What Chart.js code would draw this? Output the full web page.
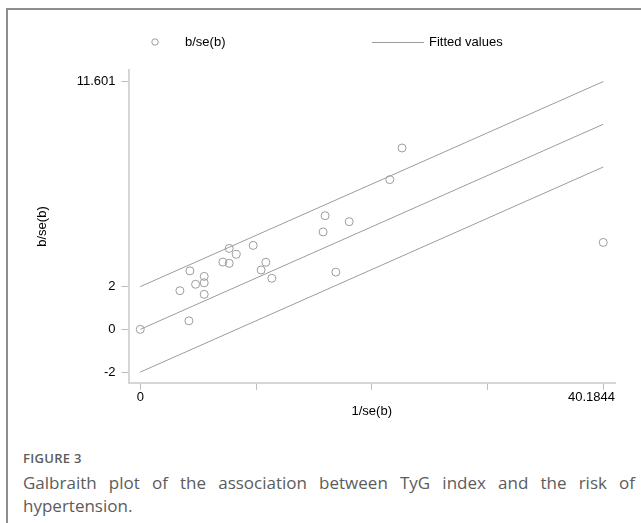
<!DOCTYPE html>
<html>
<head>
<meta charset="utf-8">
<title>Galbraith plot</title>
<script src="https://cdn.jsdelivr.net/npm/chart.js@4.4.1/dist/chart.umd.min.js"></script>
<style>
  html, body { margin: 0; padding: 0; background: #fff; }
  body { width: 641px; height: 523px; position: relative; overflow: hidden; }
  .frame {
    position: absolute; left: 6px; top: 8px; width: 700px; height: 600px;
    border-top: 2px solid #8e8e8e; border-left: 2px solid #8e8e8e;
  }
  #wrap { position: absolute; left: 0; top: 0; width: 641px; height: 440px; }
  .fig-label {
    position: absolute; left: 23px; top: 449px;
    font-family: "Open Sans", sans-serif; font-weight: 600; font-size: 13px;
    color: #5c5c5c; letter-spacing: 0.3px;
  }
  .fig-caption {
    position: absolute; left: 23px; top: 471px; width: 612px;
    font-family: "Open Sans", sans-serif; font-size: 17px; line-height: 23px;
    color: #5c5c5c; text-align: justify;
  }
</style>
</head>
<body>
<div class="frame"></div>
<div id="wrap"><canvas id="galbraith" width="641" height="440"></canvas></div>
<div class="fig-label">FIGURE 3</div>
<div class="fig-caption">Galbraith plot of the association between TyG index and the risk of hypertension.</div>

<script>
// значения
const studyX = [0, 3.44, 4.22, 4.31, 4.80, 5.55, 5.55, 5.55, 7.17, 7.72, 7.72, 8.33,
  9.80, 10.49, 10.90, 11.42, 15.87, 16.04, 16.97, 18.13, 21.66, 22.72, 40.18];
const studyY = [0, 1.81, 0.40, 2.74, 2.11, 2.48, 2.18, 1.64, 3.15, 3.79, 3.09, 3.51,
  3.93, 2.78, 3.14, 2.39, 4.56, 5.32, 2.68, 5.04, 7.01, 8.49, 4.07];

const fitX = [0, 40.1844];
const fitMid = [0, 9.601];
const fitUpper = [2, 11.601];
const fitLower = [-2, 7.601];

const xTicks = [0, 10.0461, 20.0922, 30.1383, 40.1844];
const xTickLabels = ["0", "", "", "", "40.1844"];
const yTicks = [-2, 0, 2, 11.601];
const yTickLabels = ["-2", "0", "2", "11.601"];

const legendLabels = ["b/se(b)", "Fitted values"];

const markColor = "#9c9c9c";
const axisFont = { family: "'Liberation Sans', Arial, sans-serif", size: 13 };

const toPoints = (xs, ys) => xs.map((x, i) => ({ x: x, y: ys[i] }));

const fitLine = (ys) => ({
  type: "line",
  data: toPoints(fitX, ys),
  borderColor: markColor,
  borderWidth: 1,
  pointRadius: 0,
  fill: false
});

// легенда в одну строку, как в Stata
const legendRow = {
  id: "legendRow",
  afterDraw(chart) {
    const ctx = chart.ctx;
    ctx.save();
    ctx.strokeStyle = markColor;
    ctx.lineWidth = 1;
    ctx.beginPath();
    ctx.arc(155, 42, 3.2, 0, Math.PI * 2);
    ctx.stroke();
    ctx.beginPath();
    ctx.moveTo(372, 42.5);
    ctx.lineTo(424, 42.5);
    ctx.stroke();
    ctx.fillStyle = "#000";
    ctx.font = "13px 'Liberation Sans', Arial, sans-serif";
    ctx.textBaseline = "middle";
    ctx.fillText(legendLabels[0], 185, 42);
    ctx.fillText(legendLabels[1], 429, 42);
    ctx.restore();
  }
};

// последняя подпись оси X прижата к концу оси
const lastXLabel = {
  id: "lastXLabel",
  beforeDraw(chart) {
    const scale = chart.scales.x;
    const items = scale.getLabelItems();
    const last = items[items.length - 1];
    if (last) {
      last.options.textAlign = "right";
      last.options.translation[0] = scale.right;
    }
  }
};

new Chart(document.getElementById("galbraith"), {
  type: "scatter",
  data: {
    datasets: [
      {
        label: legendLabels[0],
        data: toPoints(studyX, studyY),
        pointStyle: "circle",
        pointRadius: 4,
        borderColor: markColor,
        backgroundColor: "rgba(0,0,0,0)",
        borderWidth: 1
      },
      fitLine(fitUpper),
      fitLine(fitMid),
      fitLine(fitLower)
    ]
  },
  options: {
    responsive: false,
    animation: false,
    layout: { padding: { left: 30, top: 70, right: 26, bottom: 17 } },
    plugins: {
      legend: { display: false },
      tooltip: { enabled: false }
    },
    scales: {
      x: {
        type: "linear",
        min: -1.02,
        max: 41.2,
        afterBuildTicks: (s) => { s.ticks = xTicks.map((v) => ({ value: v })); },
        afterFit: (s) => { s.height = 40; },
        grid: { drawOnChartArea: false, drawTicks: true, tickLength: 7, color: "#bdbdbd", lineWidth: 1 },
        border: { display: true, color: "#d6d6d6", width: 2 },
        ticks: {
          autoSkip: false,
          maxRotation: 0,
          padding: 0,
          color: "#000",
          font: axisFont,
          callback: (v, i) => xTickLabels[i]
        },
        title: { display: true, text: "1/se(b)", color: "#000", font: axisFont, padding: { top: 4, bottom: 4 } }
      },
      y: {
        type: "linear",
        min: -2.51,
        max: 12.14,
        afterBuildTicks: (s) => { s.ticks = yTicks.map((v) => ({ value: v })); },
        afterFit: (s) => { s.width = 98.5; },
        grid: { drawOnChartArea: false, drawTicks: true, tickLength: 7, color: "#bdbdbd", lineWidth: 1 },
        border: { display: true, color: "#d6d6d6", width: 2 },
        ticks: {
          autoSkip: false,
          padding: 6,
          color: "#000",
          font: axisFont,
          callback: (v, i) => yTickLabels[i]
        },
        title: { display: true, text: "b/se(b)", color: "#000", font: axisFont, padding: { top: 5, bottom: 4 } }
      }
    }
  },
  plugins: [legendRow, lastXLabel]
});
</script>
</body>
</html>
